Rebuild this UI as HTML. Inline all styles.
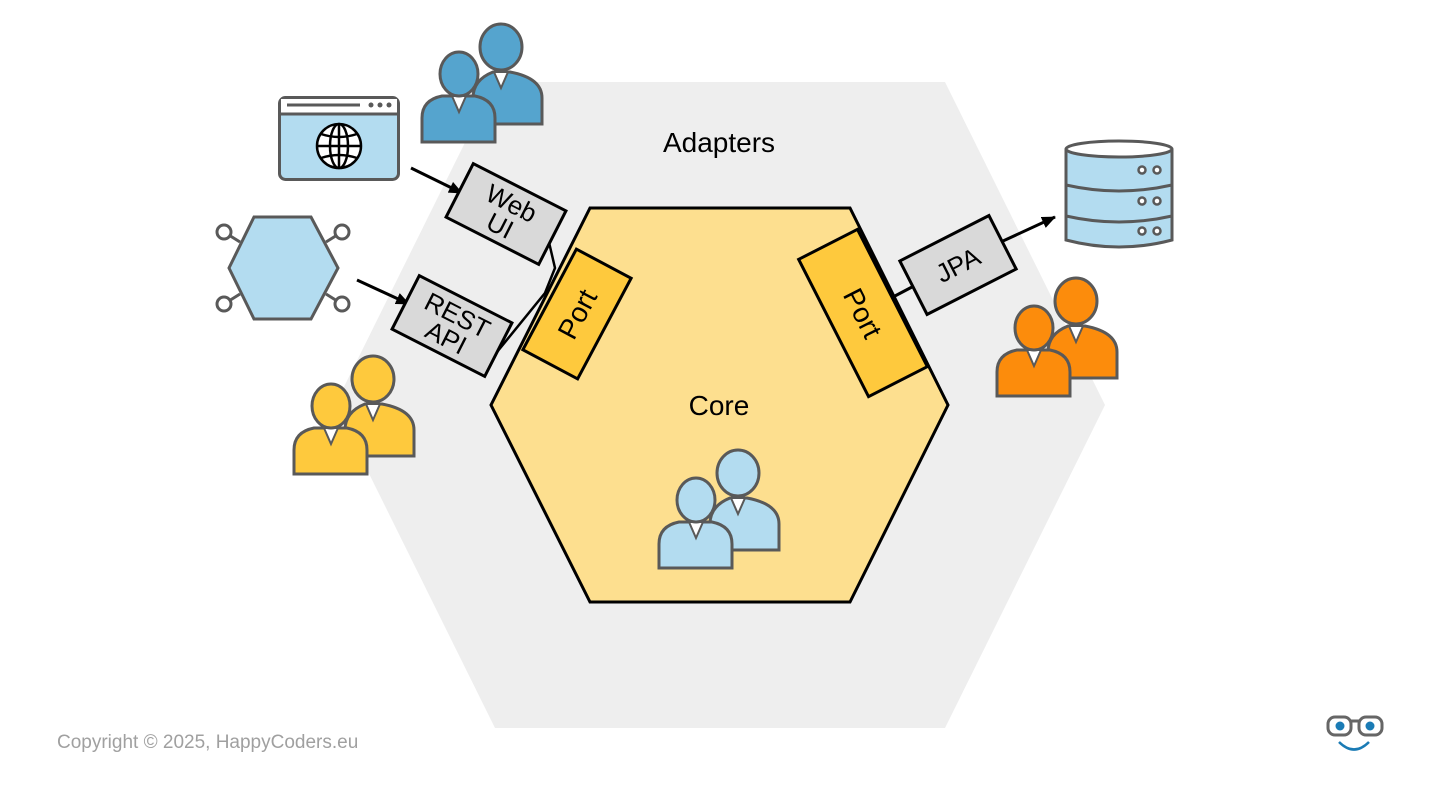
<!DOCTYPE html>
<html><head><meta charset="utf-8"><style>
body{margin:0;background:#fff;}
svg{display:block;font-family:"Liberation Sans","DejaVu Sans",sans-serif;}
</style></head><body>
<svg width="1440" height="810" viewBox="0 0 1440 810">
<defs>
<g id="pp">
  <path d="M473,124 V98 Q473,80 493,72 L510,72 Q542,78 542,98 V124 Z" fill="currentColor" stroke="#595959" stroke-width="3"/>
  <path d="M494,72 L508,72 L501,88 Z" fill="#fff" stroke="#595959" stroke-width="2"/>
  <ellipse cx="501" cy="47" rx="21" ry="23" fill="currentColor" stroke="#595959" stroke-width="3"/>
  <path d="M422,142 V118 Q422,100 442,96 L475,96 Q495,100 495,118 V142 Z" fill="currentColor" stroke="#595959" stroke-width="3"/>
  <path d="M452,96 L466,96 L459,112 Z" fill="#fff" stroke="#595959" stroke-width="2"/>
  <ellipse cx="459" cy="74" rx="19" ry="22" fill="currentColor" stroke="#595959" stroke-width="3"/>
</g>
<marker id="ar" markerWidth="14" markerHeight="12" refX="13" refY="6" orient="auto" markerUnits="userSpaceOnUse" viewBox="0 0 14 12"><path d="M0,0 L14,6 L0,12 Z" fill="#000"/></marker>
</defs>
<polygon points="495,82 945,82 1105,405 945,728 495,728 335,405" fill="#eeeeee"/>
<polygon points="590,208 850,208 948,405 850,602 590,602 491,405" fill="#fddf8f" stroke="#000" stroke-width="3"/>
<text x="719" y="152" font-size="28" text-anchor="middle">Adapters</text>
<text x="719" y="415" font-size="28" text-anchor="middle">Core</text>

<!-- connectors -->
<polyline points="548,238 555,268 545,293 497,352" fill="none" stroke="#000" stroke-width="2.5"/>
<line x1="893" y1="297" x2="912" y2="287" stroke="#000" stroke-width="3"/>
<line x1="1003" y1="241" x2="1055" y2="217" stroke="#000" stroke-width="3" marker-end="url(#ar)"/>
<line x1="411" y1="168" x2="462" y2="193" stroke="#000" stroke-width="3" marker-end="url(#ar)"/>
<line x1="357" y1="280" x2="409" y2="304" stroke="#000" stroke-width="3" marker-end="url(#ar)"/>

<!-- boxes -->
<g transform="translate(506,214) rotate(27)">
<rect x="-52" y="-30" width="104" height="60" fill="#d9d9d9" stroke="#000" stroke-width="3"/>
<text x="0" y="-3" font-size="26" text-anchor="middle">Web</text><text x="0" y="22" font-size="26" text-anchor="middle">UI</text></g>
<g transform="translate(452,326) rotate(27)">
<rect x="-52" y="-30" width="104" height="60" fill="#d9d9d9" stroke="#000" stroke-width="3"/>
<text x="0" y="-3" font-size="26" text-anchor="middle">REST</text><text x="0" y="22" font-size="26" text-anchor="middle">API</text></g>
<g transform="translate(577,314) rotate(-62)">
<rect x="-57" y="-31" width="114" height="62" fill="#fec93d" stroke="#000" stroke-width="3"/>
<text x="0" y="10" font-size="28" text-anchor="middle">Port</text></g>
<g transform="translate(863,313) rotate(63)">
<rect x="-77" y="-33" width="154" height="66" fill="#fec93d" stroke="#000" stroke-width="3"/>
<text x="0" y="10" font-size="28" text-anchor="middle">Port</text></g>
<g transform="translate(958,265) rotate(-27)">
<rect x="-50" y="-30" width="100" height="60" fill="#d9d9d9" stroke="#000" stroke-width="3"/>
<text x="0" y="9" font-size="26" text-anchor="middle">JPA</text></g>

<!-- browser -->
<rect x="279.5" y="97.5" width="119" height="82" rx="6" fill="#b3dcf0" stroke="#595959" stroke-width="3"/>
<rect x="281" y="99" width="116" height="14" fill="#fff"/>
<line x1="279" y1="114" x2="399" y2="114" stroke="#595959" stroke-width="3"/>
<line x1="287" y1="105" x2="360" y2="105" stroke="#595959" stroke-width="3"/>
<circle cx="371" cy="105" r="2.5" fill="#595959"/><circle cx="380" cy="105" r="2.5" fill="#595959"/><circle cx="389" cy="105" r="2.5" fill="#595959"/>
<g fill="none" stroke="#000" stroke-width="2.5">
<circle cx="339" cy="146" r="22" fill="#fff"/>
<ellipse cx="339" cy="146" rx="9" ry="22"/>
<line x1="339" y1="124" x2="339" y2="168"/>
<line x1="317" y1="146" x2="361" y2="146"/>
<path d="M321,134 Q339,140 357,134 M321,158 Q339,152 357,158"/>
</g>

<!-- hex icon -->
<g stroke="#595959" stroke-width="3" fill="#fff">
<line x1="224" y1="232" x2="240" y2="242"/><line x1="342" y1="232" x2="326" y2="242"/>
<line x1="224" y1="304" x2="240" y2="294"/><line x1="342" y1="304" x2="326" y2="294"/>
<circle cx="224" cy="232" r="7"/><circle cx="342" cy="232" r="7"/><circle cx="224" cy="304" r="7"/><circle cx="342" cy="304" r="7"/>
<polygon points="254,217 311,217 338,268 311,319 254,319 229,268" fill="#b3dcf0"/>
</g>

<!-- database -->
<g stroke="#595959" stroke-width="3" fill="#b3dcf0">
<path d="M1066,149 V240 Q1119,254 1172,240 V149"/>
<path d="M1066,185 Q1119,197 1172,185 M1066,216 Q1119,228 1172,216" fill="none"/>
<ellipse cx="1119" cy="149" rx="53" ry="8" fill="#fff"/>
</g>
<g fill="#fff" stroke="#595959" stroke-width="2.5">
<circle cx="1142" cy="170" r="3.5"/><circle cx="1157" cy="170" r="3.5"/>
<circle cx="1142" cy="201" r="3.5"/><circle cx="1157" cy="201" r="3.5"/>
<circle cx="1142" cy="231" r="3.5"/><circle cx="1157" cy="231" r="3.5"/>
</g>

<!-- people -->
<use href="#pp" style="color:#55a4ce"/>
<use href="#pp" transform="translate(-128,332)" style="color:#fec93d"/>
<use href="#pp" transform="translate(237,426)" style="color:#b3dcf0"/>
<use href="#pp" transform="translate(575,254)" style="color:#fc8c0c"/>

<text x="57" y="748" font-size="19" fill="#a0a0a0">Copyright © 2025, HappyCoders.eu</text>

<!-- logo -->
<g stroke="#666" stroke-width="3" fill="#fff">
<rect x="1328" y="717" width="23" height="18" rx="7"/>
<rect x="1359" y="717" width="23" height="18" rx="7"/>
<line x1="1351" y1="721" x2="1359" y2="721"/>
</g>
<circle cx="1340" cy="726" r="4.5" fill="#1a7bb5"/><circle cx="1370" cy="726" r="4.5" fill="#1a7bb5"/>
<path d="M1339,742 Q1354,757 1369,742" fill="none" stroke="#1a7bb5" stroke-width="2.5"/>
</svg>
</body></html>
